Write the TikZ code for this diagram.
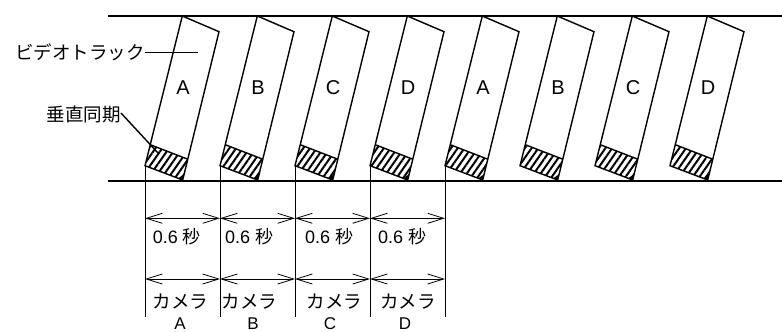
\documentclass[tikz,border=0pt]{standalone}
\usepackage{fontspec}
\setmainfont{Liberation Sans}
\newfontfamily\jp{Noto Sans CJK JP}
\usetikzlibrary{patterns.meta,arrows.meta}
\begin{document}
\begin{tikzpicture}[x=1pt,y=-1pt,
  band/.style={line width=2pt},
  trackline/.style={line width=1.4pt, line join=miter},
  hatch/.style={pattern={Lines[angle=55,distance=5.5pt,line width=2pt]}},
  dimline/.style={line width=0.9pt},
  dimarrow/.style={line width=0.8pt,
    {Straight Barb[length=16pt,width=10pt,line width=0.8pt]}-{Straight Barb[length=16pt,width=10pt,line width=0.8pt]}},
  txt/.style={font=\fontsize{18}{20}\selectfont, inner sep=0pt},
  ltxt/.style={font=\fontsize{17}{19}\selectfont, inner sep=0pt},
  jtxt/.style={font=\jp\fontsize{18.5}{20}\selectfont, inner sep=0pt},
  trk/.style={font=\fontsize{20}{22}\selectfont, inner sep=0pt},
  leader/.style={line width=1.4pt}
]
\useasboundingbox (0,0) rectangle (782,332);
% band lines
\coordinate (tl) at (108,15.5);
\coordinate (tr) at (782,15.5);
\coordinate (bl) at (108,181);
\coordinate (br) at (782,181);
\draw[band] (tl) -- (tr);
\draw[band] (bl) -- (br);
% tracks
\foreach \i/\l in {0/A,1/B,2/C,3/D,4/A,5/B,6/C,7/D} {
  \pgfmathsetmacro\xx{182.3+75*\i}
  \begin{scope}[shift={(\xx,16)}]
    \coordinate (c\i) at (-37.3,149.7);
    \fill[hatch] (-32.1,128.7) -- (5.5,143.2) -- (0.4,164) -- (-37.3,149.7) -- cycle;
    \fill (0.4,164) -- (-4.1,162.3) -- (1.85,158.1) -- cycle;
    \draw[trackline] (0,0) -- (36.7,15.7) -- (0.4,164) -- (-37.3,149.7) -- cycle;
    \draw[trackline] (-32.1,128.7) -- (5.5,143.2);
    \node[trk] (t\i) at (0.8,72) {\l};
  \end{scope}
}
% vertical dimension lines
\foreach \i in {0,...,4} {
  \coordinate (d\i) at (c\i |- 0,317);
  \draw[dimline] (c\i) -- (d\i);
  \coordinate (p\i) at (c\i |- 0,218.3);
  \coordinate (q\i) at (c\i |- 0,279);
}
\foreach \i [evaluate=\i as \j using int(\i+1)] in {0,...,3} {
  \draw[dimarrow] (p\i) -- (p\j);
  \draw[dimarrow] (q\i) -- (q\j);
}
% cell labels
\node[txt,anchor=west] (s0) at (152.7,237) {0.6 {\jp 秒}};
\node[txt,anchor=west] (s1) at (225,237) {0.6 {\jp 秒}};
\node[txt,anchor=west] (s2) at (305,237) {0.6 {\jp 秒}};
\node[txt,anchor=west] (s3) at (378,237) {0.6 {\jp 秒}};
\node[jtxt,anchor=west] (k0) at (152.7,302) {カメラ};
\node[jtxt,anchor=west] (k1) at (221.7,302) {カメラ};
\node[jtxt,anchor=west] (k2) at (306.7,302) {カメラ};
\node[jtxt,anchor=west] (k3) at (380,302) {カメラ};
\node[ltxt] (a0) at (180,323.5) {A};
\node[ltxt] (a1) at (253,323.5) {B};
\node[ltxt] (a2) at (330,323.5) {C};
\node[ltxt] (a3) at (405,323.5) {D};
% leader labels
\node[jtxt,anchor=east] (vt) at (145,52.5) {ビデオトラック};
\coordinate (vte) at (197.5,52.5);
\draw[leader] (vt.east) -- (vte);
\node[jtxt,anchor=east] (vs) at (121,114) {垂直同期};
\coordinate (vse) at (158,153);
\draw[leader] (vs.east) ++(0,-1) -- (vse);
\end{tikzpicture}
\end{document}
